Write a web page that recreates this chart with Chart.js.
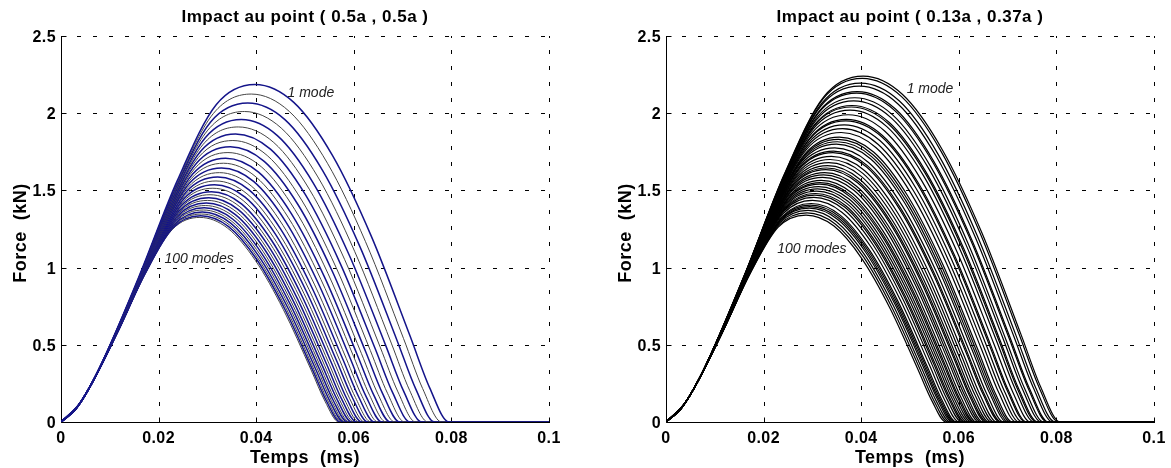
<!DOCTYPE html>
<html lang="fr">
<head>
<meta charset="UTF-8">
<title>Force d'impact - convergence modale</title>
<script src="https://cdn.jsdelivr.net/npm/chart.js"></script>
<style>
  body { margin: 0; background: #fff; }
  canvas { position: absolute; top: 0; }
  #centre { left: 0; }
  #excentre { left: 585px; }
</style>
</head>
<body>
<canvas id="centre" width="585" height="468"></canvas>
<canvas id="excentre" width="586" height="468"></canvas>
<script>
// graduations communes aux deux graphes
const graduationsTemps = [0, 0.02, 0.04, 0.06, 0.08, 0.1];
const etiquettesTemps = ['0', '0.02', '0.04', '0.06', '0.08', '0.1'];
const graduationsForce = [0, 0.5, 1, 1.5, 2, 2.5];
const etiquettesForce = ['0', '0.5', '1', '1.5', '2', '2.5'];

// impact au point (0.5a, 0.5a) : une courbe par troncature modale, de 1 mode a 100 modes
// temps en ms, force en kN ; la derniere valeur de chaque courbe est la fin du contact
const tempsCentre = [
  [0.00398, 0.00795, 0.0159, 0.02385, 0.0318, 0.03975, 0.0477, 0.05565, 0.0636, 0.07155, 0.07553, 0.0795],
  [0.0039, 0.0078, 0.0156, 0.0234, 0.0312, 0.039, 0.0468, 0.0546, 0.0624, 0.0702, 0.0741, 0.078],
  [0.00383, 0.00766, 0.01531, 0.02297, 0.03062, 0.03828, 0.04594, 0.05359, 0.06125, 0.0689, 0.07273, 0.07656],
  [0.00376, 0.00752, 0.01504, 0.02256, 0.03008, 0.0376, 0.04512, 0.05264, 0.06016, 0.06768, 0.07144, 0.0752],
  [0.0037, 0.00739, 0.01478, 0.02217, 0.02956, 0.03695, 0.04434, 0.05173, 0.05912, 0.06651, 0.07021, 0.0739],
  [0.00363, 0.00727, 0.01454, 0.0218, 0.02907, 0.03634, 0.04361, 0.05088, 0.05814, 0.06541, 0.06905, 0.07268],
  [0.00358, 0.00715, 0.01431, 0.02146, 0.02862, 0.03577, 0.04292, 0.05008, 0.05723, 0.06439, 0.06796, 0.07154],
  [0.00352, 0.00704, 0.01409, 0.02113, 0.02817, 0.03522, 0.04226, 0.0493, 0.05634, 0.06339, 0.06691, 0.07043],
  [0.00347, 0.00694, 0.01388, 0.02082, 0.02776, 0.0347, 0.04164, 0.04858, 0.05552, 0.06246, 0.06593, 0.0694],
  [0.00342, 0.00684, 0.01368, 0.02052, 0.02736, 0.03421, 0.04105, 0.04789, 0.05473, 0.06157, 0.06499, 0.06841],
  [0.00337, 0.00675, 0.01349, 0.02024, 0.02699, 0.03374, 0.04048, 0.04723, 0.05398, 0.06072, 0.0641, 0.06747],
  [0.00333, 0.00666, 0.01332, 0.01998, 0.02664, 0.0333, 0.03996, 0.04662, 0.05328, 0.05994, 0.06327, 0.0666],
  [0.00329, 0.00658, 0.01315, 0.01973, 0.02631, 0.03289, 0.03946, 0.04604, 0.05262, 0.05919, 0.06248, 0.06577],
  [0.00325, 0.0065, 0.01299, 0.01949, 0.02599, 0.03249, 0.03898, 0.04548, 0.05198, 0.05847, 0.06172, 0.06497],
  [0.00321, 0.00642, 0.01284, 0.01927, 0.02569, 0.03211, 0.03853, 0.04495, 0.05138, 0.0578, 0.06101, 0.06422],
  [0.00318, 0.00635, 0.0127, 0.01905, 0.0254, 0.03176, 0.03811, 0.04446, 0.05081, 0.05716, 0.06033, 0.06351],
  [0.00314, 0.00629, 0.01257, 0.01886, 0.02514, 0.03143, 0.03772, 0.044, 0.05029, 0.05657, 0.05972, 0.06286],
  [0.00311, 0.00622, 0.01245, 0.01867, 0.02489, 0.03112, 0.03734, 0.04356, 0.04978, 0.05601, 0.05912, 0.06223],
  [0.00308, 0.00616, 0.01233, 0.01849, 0.02465, 0.03082, 0.03698, 0.04314, 0.0493, 0.05547, 0.05855, 0.06163],
  [0.00305, 0.00611, 0.01222, 0.01832, 0.02443, 0.03054, 0.03665, 0.04276, 0.04886, 0.05497, 0.05803, 0.06108],
  [0.00303, 0.00606, 0.01211, 0.01817, 0.02422, 0.03028, 0.03633, 0.04239, 0.04844, 0.0545, 0.05752, 0.06055],
  [0.003, 0.00601, 0.01201, 0.01802, 0.02402, 0.03003, 0.03603, 0.04204, 0.04804, 0.05405, 0.05705, 0.06005],
  [0.00298, 0.00596, 0.01191, 0.01787, 0.02383, 0.02979, 0.03574, 0.0417, 0.04766, 0.05361, 0.05659, 0.05957],
  [0.00296, 0.00591, 0.01182, 0.01774, 0.02365, 0.02956, 0.03547, 0.04138, 0.0473, 0.05321, 0.05616, 0.05912],
  [0.00294, 0.00587, 0.01174, 0.01761, 0.02348, 0.02935, 0.03522, 0.04109, 0.04696, 0.05283, 0.05577, 0.0587],
  [0.00292, 0.00583, 0.01166, 0.01749, 0.02332, 0.02916, 0.03499, 0.04082, 0.04665, 0.05248, 0.05539, 0.05831],
  [0.0029, 0.00579, 0.01159, 0.01738, 0.02318, 0.02897, 0.03476, 0.04056, 0.04635, 0.05215, 0.05504, 0.05794],
  [0.00288, 0.00576, 0.01151, 0.01727, 0.02303, 0.02879, 0.03454, 0.0403, 0.04606, 0.05181, 0.05469, 0.05757],
  [0.00286, 0.00573, 0.01145, 0.01718, 0.0229, 0.02863, 0.03435, 0.04008, 0.0458, 0.05153, 0.05439, 0.05725],
  [0.00285, 0.00569, 0.01139, 0.01708, 0.02278, 0.02847, 0.03416, 0.03986, 0.04555, 0.05125, 0.05409, 0.05694]
];
const forceCentre = [
  [0.127, 0.354, 0.936, 1.565, 2.055, 2.186, 2.070, 1.725, 1.202, 0.555, 0.223, 0],
  [0.123, 0.344, 0.909, 1.521, 1.997, 2.124, 2.011, 1.676, 1.168, 0.540, 0.217, 0],
  [0.120, 0.335, 0.884, 1.479, 1.942, 2.066, 1.957, 1.630, 1.136, 0.525, 0.211, 0],
  [0.117, 0.326, 0.861, 1.440, 1.890, 2.011, 1.904, 1.587, 1.106, 0.511, 0.205, 0],
  [0.114, 0.317, 0.838, 1.403, 1.841, 1.959, 1.855, 1.546, 1.077, 0.498, 0.200, 0],
  [0.111, 0.310, 0.818, 1.368, 1.796, 1.911, 1.810, 1.508, 1.051, 0.485, 0.195, 0],
  [0.108, 0.302, 0.799, 1.336, 1.754, 1.866, 1.767, 1.472, 1.026, 0.474, 0.190, 0],
  [0.106, 0.295, 0.780, 1.305, 1.714, 1.823, 1.726, 1.438, 1.003, 0.463, 0.186, 0],
  [0.103, 0.289, 0.763, 1.277, 1.676, 1.783, 1.688, 1.407, 0.981, 0.453, 0.182, 0],
  [0.101, 0.283, 0.747, 1.249, 1.640, 1.745, 1.653, 1.377, 0.960, 0.443, 0.178, 0],
  [0.099, 0.277, 0.731, 1.224, 1.606, 1.709, 1.618, 1.348, 0.940, 0.434, 0.174, 0],
  [0.097, 0.272, 0.717, 1.200, 1.575, 1.676, 1.587, 1.322, 0.922, 0.426, 0.171, 0],
  [0.095, 0.266, 0.704, 1.178, 1.546, 1.645, 1.558, 1.298, 0.905, 0.418, 0.168, 0],
  [0.094, 0.262, 0.691, 1.156, 1.518, 1.615, 1.529, 1.274, 0.888, 0.410, 0.165, 0],
  [0.092, 0.257, 0.679, 1.136, 1.492, 1.587, 1.503, 1.252, 0.873, 0.403, 0.162, 0],
  [0.091, 0.253, 0.668, 1.118, 1.467, 1.561, 1.478, 1.232, 0.859, 0.396, 0.159, 0],
  [0.089, 0.249, 0.658, 1.100, 1.445, 1.537, 1.456, 1.213, 0.845, 0.390, 0.157, 0],
  [0.088, 0.245, 0.648, 1.084, 1.423, 1.514, 1.434, 1.195, 0.833, 0.385, 0.154, 0],
  [0.087, 0.242, 0.639, 1.068, 1.402, 1.492, 1.413, 1.177, 0.821, 0.379, 0.152, 0],
  [0.085, 0.238, 0.630, 1.054, 1.384, 1.472, 1.394, 1.161, 0.810, 0.374, 0.150, 0],
  [0.084, 0.235, 0.622, 1.040, 1.366, 1.453, 1.376, 1.146, 0.799, 0.369, 0.148, 0],
  [0.083, 0.232, 0.614, 1.027, 1.349, 1.435, 1.359, 1.132, 0.789, 0.364, 0.146, 0],
  [0.082, 0.230, 0.607, 1.015, 1.333, 1.418, 1.343, 1.119, 0.780, 0.360, 0.145, 0],
  [0.081, 0.227, 0.600, 1.004, 1.318, 1.402, 1.328, 1.106, 0.771, 0.356, 0.143, 0],
  [0.080, 0.225, 0.594, 0.993, 1.304, 1.387, 1.313, 1.094, 0.763, 0.352, 0.141, 0],
  [0.080, 0.222, 0.588, 0.983, 1.291, 1.373, 1.300, 1.083, 0.755, 0.349, 0.140, 0],
  [0.079, 0.220, 0.582, 0.974, 1.278, 1.360, 1.288, 1.073, 0.748, 0.345, 0.139, 0],
  [0.078, 0.218, 0.577, 0.964, 1.266, 1.347, 1.276, 1.063, 0.741, 0.342, 0.137, 0],
  [0.077, 0.216, 0.572, 0.957, 1.256, 1.336, 1.265, 1.054, 0.735, 0.339, 0.136, 0],
  [0.077, 0.215, 0.567, 0.949, 1.246, 1.325, 1.255, 1.045, 0.729, 0.337, 0.135, 0]
];

// impact au point (0.13a, 0.37a)
const tempsExcentre = [
  [0.00404, 0.00808, 0.01616, 0.02424, 0.03232, 0.0404, 0.04848, 0.05656, 0.06464, 0.07272, 0.07676, 0.0808],
  [0.00402, 0.00804, 0.01609, 0.02413, 0.03218, 0.04022, 0.04826, 0.05631, 0.06435, 0.0724, 0.07642, 0.08044],
  [0.00399, 0.00797, 0.01594, 0.02392, 0.03189, 0.03986, 0.04783, 0.0558, 0.06378, 0.07175, 0.07573, 0.07972],
  [0.00396, 0.00792, 0.01585, 0.02377, 0.03169, 0.03962, 0.04754, 0.05546, 0.06338, 0.07131, 0.07527, 0.07923],
  [0.00392, 0.00784, 0.01568, 0.02351, 0.03135, 0.03919, 0.04703, 0.05487, 0.0627, 0.07054, 0.07446, 0.07838],
  [0.00391, 0.00781, 0.01563, 0.02344, 0.03126, 0.03907, 0.04688, 0.0547, 0.06251, 0.07033, 0.07423, 0.07814],
  [0.00387, 0.00774, 0.01548, 0.02322, 0.03096, 0.0387, 0.04644, 0.05418, 0.06192, 0.06966, 0.07353, 0.0774],
  [0.00385, 0.00769, 0.01538, 0.02307, 0.03076, 0.03846, 0.04615, 0.05384, 0.06153, 0.06922, 0.07306, 0.07691],
  [0.00381, 0.00762, 0.01523, 0.02285, 0.03047, 0.03809, 0.0457, 0.05332, 0.06094, 0.06855, 0.07236, 0.07617],
  [0.0038, 0.00759, 0.01518, 0.02278, 0.03037, 0.03796, 0.04555, 0.05314, 0.06074, 0.06833, 0.07212, 0.07592],
  [0.00377, 0.00754, 0.01508, 0.02263, 0.03017, 0.03771, 0.04525, 0.05279, 0.06034, 0.06788, 0.07165, 0.07542],
  [0.00373, 0.00747, 0.01493, 0.0224, 0.02987, 0.03734, 0.0448, 0.05227, 0.05974, 0.0672, 0.07094, 0.07467],
  [0.0037, 0.00739, 0.01478, 0.02218, 0.02957, 0.03696, 0.04435, 0.05174, 0.05914, 0.06653, 0.07022, 0.07392],
  [0.00368, 0.00737, 0.01473, 0.0221, 0.02947, 0.03684, 0.0442, 0.05157, 0.05894, 0.0663, 0.06999, 0.07367],
  [0.00365, 0.0073, 0.01461, 0.02191, 0.02922, 0.03652, 0.04382, 0.05113, 0.05843, 0.06574, 0.06939, 0.07304],
  [0.00362, 0.00724, 0.01448, 0.02172, 0.02896, 0.0362, 0.04344, 0.05068, 0.05792, 0.06516, 0.06878, 0.0724],
  [0.00359, 0.00718, 0.01435, 0.02153, 0.02871, 0.03589, 0.04306, 0.05024, 0.05742, 0.06459, 0.06818, 0.07177],
  [0.00355, 0.0071, 0.0142, 0.0213, 0.0284, 0.0355, 0.0426, 0.0497, 0.0568, 0.0639, 0.06745, 0.071],
  [0.00353, 0.00706, 0.01412, 0.02119, 0.02825, 0.03531, 0.04237, 0.04943, 0.0565, 0.06356, 0.06709, 0.07062],
  [0.00351, 0.00702, 0.01405, 0.02107, 0.02809, 0.03512, 0.04214, 0.04916, 0.05618, 0.06321, 0.06672, 0.07023],
  [0.00349, 0.00698, 0.01397, 0.02095, 0.02794, 0.03492, 0.0419, 0.04889, 0.05587, 0.06286, 0.06635, 0.06984],
  [0.00346, 0.00692, 0.01384, 0.02076, 0.02768, 0.0346, 0.04151, 0.04843, 0.05535, 0.06227, 0.06573, 0.06919],
  [0.00343, 0.00687, 0.01373, 0.0206, 0.02747, 0.03434, 0.0412, 0.04807, 0.05494, 0.0618, 0.06524, 0.06867],
  [0.00342, 0.00684, 0.01368, 0.02052, 0.02736, 0.03421, 0.04105, 0.04789, 0.05473, 0.06157, 0.06499, 0.06841],
  [0.00339, 0.00678, 0.01355, 0.02033, 0.0271, 0.03388, 0.04066, 0.04743, 0.05421, 0.06098, 0.06437, 0.06776],
  [0.00336, 0.00672, 0.01345, 0.02017, 0.02689, 0.03362, 0.04034, 0.04706, 0.05378, 0.06051, 0.06387, 0.06723],
  [0.00334, 0.00667, 0.01334, 0.02001, 0.02668, 0.03335, 0.04002, 0.04669, 0.05336, 0.06003, 0.06337, 0.0667],
  [0.00331, 0.00662, 0.01323, 0.01985, 0.02647, 0.03309, 0.0397, 0.04632, 0.05294, 0.05955, 0.06286, 0.06617],
  [0.00329, 0.00658, 0.01315, 0.01973, 0.02631, 0.03289, 0.03946, 0.04604, 0.05262, 0.05919, 0.06248, 0.06577],
  [0.00328, 0.00655, 0.0131, 0.01965, 0.0262, 0.03276, 0.03931, 0.04586, 0.05241, 0.05896, 0.06223, 0.06551],
  [0.00325, 0.0065, 0.01299, 0.01949, 0.02599, 0.03249, 0.03898, 0.04548, 0.05198, 0.05847, 0.06172, 0.06497],
  [0.00323, 0.00646, 0.01291, 0.01937, 0.02583, 0.03229, 0.03874, 0.0452, 0.05166, 0.05811, 0.06134, 0.06457],
  [0.00321, 0.00642, 0.01283, 0.01925, 0.02566, 0.03208, 0.0385, 0.04491, 0.05133, 0.05774, 0.06095, 0.06416],
  [0.00318, 0.00636, 0.01272, 0.01909, 0.02545, 0.03181, 0.03817, 0.04453, 0.0509, 0.05726, 0.06044, 0.06362],
  [0.00316, 0.00632, 0.01264, 0.01896, 0.02528, 0.03161, 0.03793, 0.04425, 0.05057, 0.05689, 0.06005, 0.06321],
  [0.00315, 0.00629, 0.01259, 0.01888, 0.02518, 0.03147, 0.03776, 0.04406, 0.05035, 0.05665, 0.05979, 0.06294],
  [0.00313, 0.00625, 0.01251, 0.01876, 0.02501, 0.03127, 0.03752, 0.04377, 0.05002, 0.05628, 0.0594, 0.06253],
  [0.00311, 0.00621, 0.01242, 0.01864, 0.02485, 0.03106, 0.03727, 0.04348, 0.0497, 0.05591, 0.05901, 0.06212],
  [0.00309, 0.00617, 0.01234, 0.01851, 0.02468, 0.03086, 0.03703, 0.0432, 0.04937, 0.05554, 0.05862, 0.06171],
  [0.00307, 0.00613, 0.01226, 0.01839, 0.02452, 0.03065, 0.03678, 0.04291, 0.04904, 0.05517, 0.05824, 0.0613],
  [0.00305, 0.0061, 0.0122, 0.01831, 0.02441, 0.03051, 0.03661, 0.04271, 0.04882, 0.05492, 0.05797, 0.06102],
  [0.00303, 0.00606, 0.01212, 0.01818, 0.02424, 0.0303, 0.03636, 0.04242, 0.04848, 0.05454, 0.05757, 0.0606],
  [0.003, 0.00601, 0.01201, 0.01802, 0.02402, 0.03003, 0.03603, 0.04204, 0.04804, 0.05405, 0.05705, 0.06005],
  [0.00297, 0.00595, 0.0119, 0.01785, 0.0238, 0.02975, 0.03569, 0.04164, 0.04759, 0.05354, 0.05652, 0.05949],
  [0.00296, 0.00592, 0.01184, 0.01776, 0.02368, 0.02961, 0.03553, 0.04145, 0.04737, 0.05329, 0.05625, 0.05921],
  [0.00295, 0.00589, 0.01179, 0.01768, 0.02357, 0.02947, 0.03536, 0.04125, 0.04714, 0.05304, 0.05598, 0.05893],
  [0.00293, 0.00587, 0.01173, 0.0176, 0.02346, 0.02933, 0.03519, 0.04106, 0.04692, 0.05279, 0.05572, 0.05865],
  [0.00291, 0.00582, 0.01164, 0.01747, 0.02329, 0.02911, 0.03493, 0.04075, 0.04658, 0.0524, 0.05531, 0.05822],
  [0.00289, 0.00578, 0.01156, 0.01734, 0.02312, 0.0289, 0.03468, 0.04046, 0.04624, 0.05202, 0.05491, 0.0578],
  [0.00287, 0.00574, 0.01147, 0.01721, 0.02295, 0.02869, 0.03442, 0.04016, 0.0459, 0.05163, 0.0545, 0.05737]
];
const forceExcentre = [
  [0.130, 0.363, 0.959, 1.604, 2.106, 2.240, 2.121, 1.767, 1.232, 0.569, 0.228, 0],
  [0.129, 0.360, 0.952, 1.593, 2.092, 2.225, 2.107, 1.756, 1.224, 0.565, 0.227, 0],
  [0.127, 0.356, 0.939, 1.572, 2.063, 2.195, 2.079, 1.732, 1.207, 0.558, 0.224, 0],
  [0.126, 0.352, 0.931, 1.557, 2.045, 2.175, 2.060, 1.716, 1.196, 0.552, 0.222, 0],
  [0.124, 0.347, 0.916, 1.532, 2.012, 2.140, 2.027, 1.688, 1.177, 0.544, 0.218, 0],
  [0.124, 0.345, 0.912, 1.525, 2.002, 2.130, 2.017, 1.681, 1.172, 0.541, 0.217, 0],
  [0.122, 0.340, 0.899, 1.504, 1.974, 2.100, 1.989, 1.657, 1.155, 0.533, 0.214, 0],
  [0.121, 0.337, 0.890, 1.489, 1.955, 2.080, 1.970, 1.641, 1.144, 0.528, 0.212, 0],
  [0.119, 0.332, 0.877, 1.468, 1.927, 2.050, 1.941, 1.617, 1.128, 0.521, 0.209, 0],
  [0.118, 0.330, 0.873, 1.461, 1.918, 2.040, 1.932, 1.610, 1.122, 0.518, 0.208, 0],
  [0.117, 0.327, 0.865, 1.446, 1.899, 2.020, 1.913, 1.594, 1.111, 0.513, 0.206, 0],
  [0.115, 0.322, 0.852, 1.425, 1.871, 1.990, 1.885, 1.570, 1.095, 0.505, 0.203, 0],
  [0.114, 0.318, 0.839, 1.403, 1.842, 1.960, 1.856, 1.546, 1.078, 0.498, 0.200, 0],
  [0.113, 0.316, 0.835, 1.396, 1.833, 1.950, 1.847, 1.539, 1.073, 0.495, 0.199, 0],
  [0.112, 0.312, 0.824, 1.378, 1.810, 1.925, 1.823, 1.519, 1.059, 0.489, 0.196, 0],
  [0.110, 0.308, 0.813, 1.360, 1.786, 1.900, 1.799, 1.499, 1.045, 0.483, 0.194, 0],
  [0.109, 0.304, 0.803, 1.343, 1.763, 1.875, 1.776, 1.479, 1.031, 0.476, 0.191, 0],
  [0.107, 0.299, 0.790, 1.321, 1.734, 1.845, 1.747, 1.456, 1.015, 0.469, 0.188, 0],
  [0.106, 0.296, 0.783, 1.310, 1.720, 1.830, 1.733, 1.444, 1.007, 0.465, 0.187, 0],
  [0.105, 0.294, 0.777, 1.300, 1.706, 1.815, 1.719, 1.432, 0.998, 0.461, 0.185, 0],
  [0.104, 0.292, 0.770, 1.289, 1.692, 1.800, 1.705, 1.420, 0.990, 0.457, 0.184, 0],
  [0.103, 0.288, 0.760, 1.271, 1.669, 1.775, 1.681, 1.400, 0.976, 0.451, 0.181, 0],
  [0.102, 0.284, 0.751, 1.257, 1.650, 1.755, 1.662, 1.385, 0.965, 0.446, 0.179, 0],
  [0.101, 0.283, 0.747, 1.249, 1.640, 1.745, 1.653, 1.377, 0.960, 0.443, 0.178, 0],
  [0.100, 0.279, 0.736, 1.232, 1.617, 1.720, 1.629, 1.357, 0.946, 0.437, 0.175, 0],
  [0.099, 0.275, 0.728, 1.217, 1.598, 1.700, 1.610, 1.341, 0.935, 0.432, 0.173, 0],
  [0.097, 0.272, 0.719, 1.203, 1.579, 1.680, 1.591, 1.326, 0.924, 0.427, 0.171, 0],
  [0.096, 0.269, 0.710, 1.189, 1.560, 1.660, 1.572, 1.310, 0.913, 0.422, 0.169, 0],
  [0.095, 0.266, 0.704, 1.178, 1.546, 1.645, 1.558, 1.298, 0.905, 0.418, 0.168, 0],
  [0.095, 0.265, 0.700, 1.171, 1.537, 1.635, 1.548, 1.290, 0.899, 0.415, 0.167, 0],
  [0.094, 0.262, 0.691, 1.156, 1.518, 1.615, 1.529, 1.274, 0.888, 0.410, 0.165, 0],
  [0.093, 0.259, 0.685, 1.146, 1.504, 1.600, 1.515, 1.262, 0.880, 0.406, 0.163, 0],
  [0.092, 0.257, 0.678, 1.135, 1.490, 1.585, 1.501, 1.251, 0.872, 0.403, 0.162, 0],
  [0.091, 0.254, 0.670, 1.121, 1.471, 1.565, 1.482, 1.235, 0.861, 0.398, 0.160, 0],
  [0.090, 0.251, 0.663, 1.110, 1.457, 1.550, 1.468, 1.223, 0.853, 0.394, 0.158, 0],
  [0.089, 0.249, 0.659, 1.103, 1.448, 1.540, 1.458, 1.215, 0.847, 0.391, 0.157, 0],
  [0.088, 0.247, 0.653, 1.092, 1.434, 1.525, 1.444, 1.203, 0.839, 0.387, 0.156, 0],
  [0.088, 0.245, 0.646, 1.081, 1.419, 1.510, 1.430, 1.191, 0.831, 0.384, 0.154, 0],
  [0.087, 0.242, 0.640, 1.070, 1.405, 1.495, 1.416, 1.180, 0.822, 0.380, 0.152, 0],
  [0.086, 0.240, 0.633, 1.060, 1.391, 1.480, 1.402, 1.168, 0.814, 0.376, 0.151, 0],
  [0.085, 0.238, 0.629, 1.053, 1.382, 1.470, 1.392, 1.160, 0.809, 0.373, 0.150, 0],
  [0.084, 0.236, 0.623, 1.042, 1.368, 1.455, 1.378, 1.148, 0.800, 0.370, 0.148, 0],
  [0.083, 0.232, 0.614, 1.027, 1.349, 1.435, 1.359, 1.132, 0.789, 0.364, 0.146, 0],
  [0.082, 0.229, 0.606, 1.013, 1.330, 1.415, 1.340, 1.116, 0.778, 0.359, 0.144, 0],
  [0.081, 0.228, 0.601, 1.006, 1.321, 1.405, 1.331, 1.109, 0.773, 0.357, 0.143, 0],
  [0.081, 0.226, 0.597, 0.999, 1.311, 1.395, 1.321, 1.101, 0.767, 0.354, 0.142, 0],
  [0.080, 0.224, 0.593, 0.992, 1.302, 1.385, 1.312, 1.093, 0.762, 0.352, 0.141, 0],
  [0.079, 0.222, 0.586, 0.981, 1.288, 1.370, 1.297, 1.081, 0.754, 0.348, 0.140, 0],
  [0.079, 0.220, 0.580, 0.970, 1.274, 1.355, 1.283, 1.069, 0.745, 0.344, 0.138, 0],
  [0.078, 0.217, 0.574, 0.959, 1.260, 1.340, 1.269, 1.057, 0.737, 0.340, 0.137, 0]
];

const tempsMax = graduationsTemps[graduationsTemps.length - 1];
const policeGras = '"Liberation Sans", Arial, sans-serif';

// hors contact la force est nulle : on ajoute l'origine et la fin de l'enregistrement
function courbes(temps, force, style) {
  return temps.map((t, k) => Object.assign({
    data: [{ x: 0, y: 0 }]
      .concat(t.map((v, i) => ({ x: v, y: force[k][i] })))
      .concat([{ x: tempsMax, y: 0 }]),
    pointRadius: 0,
    fill: false,
    cubicInterpolationMode: 'monotone'
  }, style(k)));
}

// cadre facon matlab : grille pointillee, axes gauche et bas, graduations vers l'interieur
const cadre = {
  id: 'cadre',
  beforeDatasetsDraw(chart) {
    const { ctx, chartArea: a, scales: { x, y } } = chart;
    ctx.save();
    ctx.strokeStyle = '#000';
    ctx.lineWidth = 1;
    ctx.setLineDash([4, 12]);
    graduationsTemps.slice(1).forEach(v => {
      const px = Math.round(x.getPixelForValue(v)) + 0.5;
      ctx.beginPath();
      ctx.moveTo(px, a.bottom);
      ctx.lineTo(px, a.top);
      ctx.stroke();
    });
    graduationsForce.slice(1).forEach(v => {
      const py = Math.round(y.getPixelForValue(v)) + 0.5;
      ctx.beginPath();
      ctx.moveTo(a.left, py);
      ctx.lineTo(a.right, py);
      ctx.stroke();
    });
    ctx.setLineDash([]);
    const x0 = Math.round(a.left) + 0.5;
    const y0 = Math.round(a.bottom) + 0.5;
    ctx.beginPath();
    ctx.moveTo(x0, a.top);
    ctx.lineTo(x0, y0);
    ctx.lineTo(a.right + 1, y0);
    graduationsTemps.forEach(v => {
      const px = Math.round(x.getPixelForValue(v)) + 0.5;
      ctx.moveTo(px, y0);
      ctx.lineTo(px, y0 - 5);
    });
    graduationsForce.forEach(v => {
      const py = Math.round(y.getPixelForValue(v)) + 0.5;
      ctx.moveTo(x0, py);
      ctx.lineTo(x0 + 5, py);
    });
    ctx.stroke();
    ctx.restore();
  },
  afterDraw(chart, args, opts) {
    const { ctx, chartArea: a, scales: { x, y } } = chart;
    const milieu = (a.left + a.right) / 2;
    ctx.save();
    ctx.fillStyle = '#000';
    ctx.font = 'bold 16px ' + policeGras;
    ctx.letterSpacing = '0.4px';
    ctx.textAlign = 'center';
    graduationsTemps.forEach((v, i) => {
      ctx.fillText(etiquettesTemps[i], x.getPixelForValue(v), a.bottom + 21);
    });
    ctx.textAlign = 'right';
    graduationsForce.forEach((v, i) => {
      ctx.fillText(etiquettesForce[i], a.left - 5, y.getPixelForValue(v) + 6);
    });

    ctx.textAlign = 'center';
    ctx.letterSpacing = '0.5px';
    ctx.font = 'bold 17px ' + policeGras;
    ctx.fillText(opts.titre, milieu, 22);
    ctx.font = 'bold 18px ' + policeGras;
    ctx.fillText('Temps  (ms)', milieu, 463);
    ctx.save();
    ctx.translate(a.left - 35, (a.top + a.bottom) / 2 + 4);
    ctx.rotate(-Math.PI / 2);
    ctx.fillText('Force  (kN)', 0, 0);
    ctx.restore();

    ctx.letterSpacing = '0px';
    ctx.font = 'italic 14px ' + policeGras;
    ctx.fillStyle = '#222';
    ctx.textBaseline = 'middle';
    opts.notes.forEach(n => {
      ctx.fillText(n.texte, x.getPixelForValue(n.t), y.getPixelForValue(n.f));
    });
    ctx.restore();
  }
};

function graphe(id, jeux, largeurAxe, margeDroite, titre, notes) {
  return new Chart(document.getElementById(id), {
    type: 'line',
    data: { datasets: jeux },
    options: {
      responsive: false,
      animation: false,
      events: [],
      layout: { padding: { top: 36, right: margeDroite, bottom: 0, left: 0 } },
      plugins: {
        legend: { display: false },
        tooltip: { enabled: false },
        cadre: { titre: titre, notes: notes }
      },
      scales: {
        x: {
          type: 'linear', min: 0, max: tempsMax,
          ticks: { display: false, stepSize: 0.02 },
          grid: { display: false, drawTicks: false },
          border: { display: false },
          afterFit: s => { s.height = 46; }
        },
        y: {
          type: 'linear', min: 0, max: 2.5,
          ticks: { display: false, stepSize: 0.5 },
          grid: { display: false, drawTicks: false },
          border: { display: false },
          afterFit: s => { s.width = largeurAxe; }
        }
      }
    },
    plugins: [cadre]
  });
}

// au centre les courbes alternent bleu marine et gris
graphe('centre',
  courbes(tempsCentre, forceCentre, k => k % 2 === 0
    ? { borderColor: '#14148a', borderWidth: 1.5 }
    : { borderColor: '#444444', borderWidth: 1 }),
  61, 36, 'Impact au point ( 0.5a , 0.5a )',
  [{ texte: '1 mode', t: 0.0512, f: 2.13 }, { texte: '100 modes', t: 0.0283, f: 1.056 }]);

graphe('excentre',
  courbes(tempsExcentre, forceExcentre, () => ({ borderColor: '#000', borderWidth: 1.2 })),
  81, 17, 'Impact au point ( 0.13a , 0.37a )',
  [{ texte: '1 mode', t: 0.0541, f: 2.157 }, { texte: '100 modes', t: 0.0299, f: 1.12 }]);
</script>
</body>
</html>
